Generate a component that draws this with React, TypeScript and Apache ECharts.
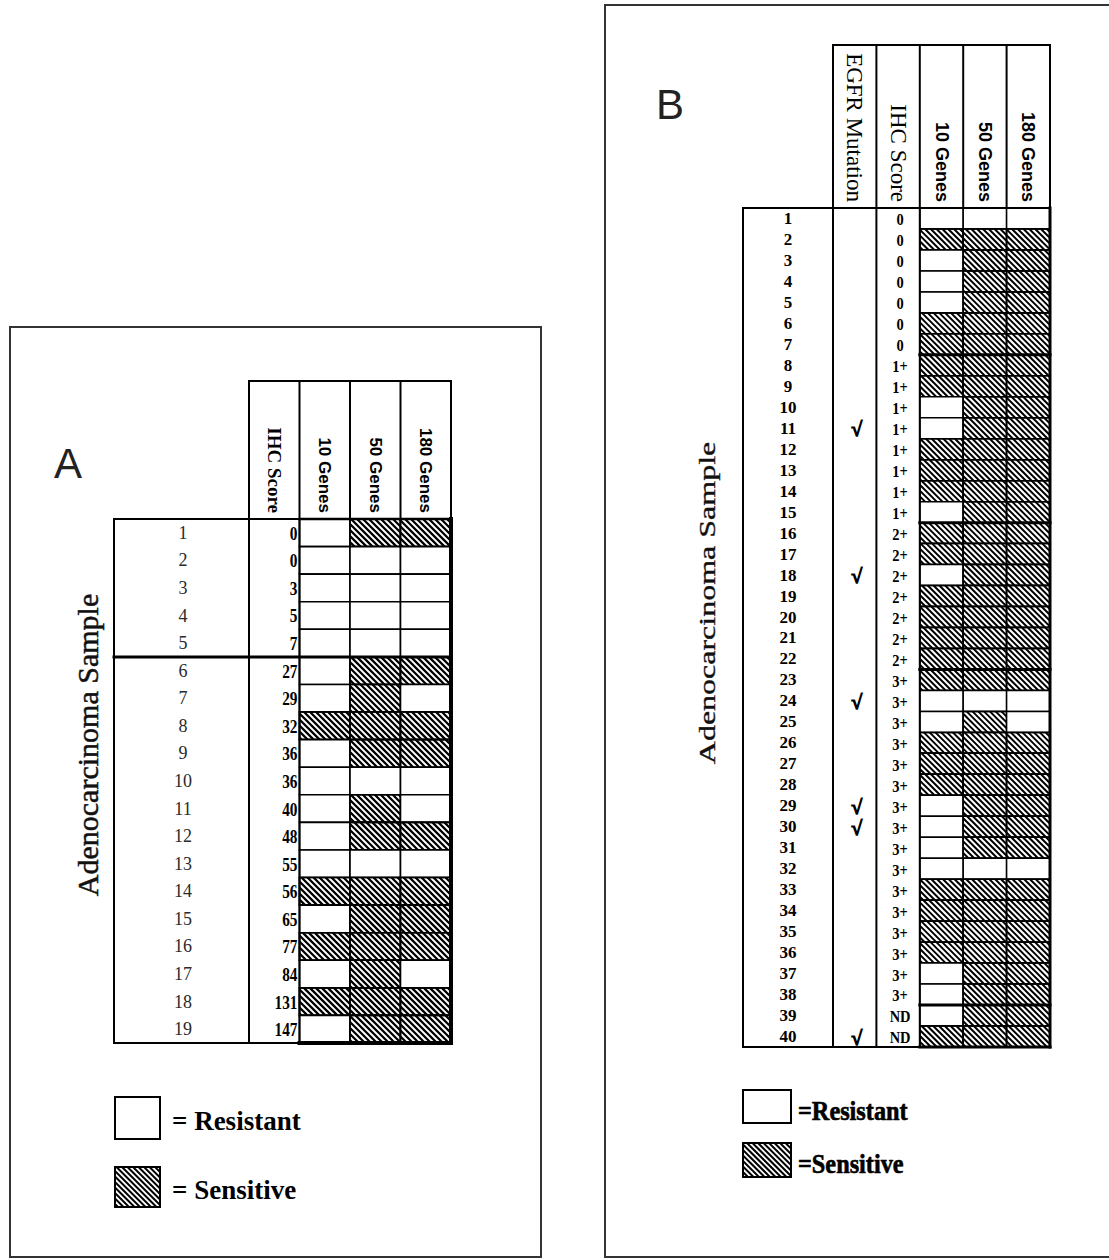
import React, { useEffect, useRef } from "react";
import * as echarts from "echarts";

const SERIF = '"Liberation Serif", "Times New Roman", serif';
const SANS = '"Liberation Sans", Arial, sans-serif';

// ---------- Panel A data ----------
const samplesA = ["1", "2", "3", "4", "5", "6", "7", "8", "9", "10", "11", "12", "13", "14", "15", "16", "17", "18", "19"];
const ihcA = ["0", "0", "3", "5", "7", "27", "29", "32", "36", "36", "40", "48", "55", "56", "65", "77", "84", "131", "147"];
const genes10A = [0, 0, 0, 0, 0, 0, 0, 1, 0, 0, 0, 0, 0, 1, 0, 1, 0, 1, 0];
const genes50A = [1, 0, 0, 0, 0, 1, 1, 1, 1, 0, 1, 1, 0, 1, 1, 1, 1, 1, 1];
const genes180A = [1, 0, 0, 0, 0, 1, 0, 1, 1, 0, 0, 1, 0, 1, 1, 1, 0, 1, 1];
const groupStartsA = [5];
const headersA = ["IHC Score", "10 Genes", "50 Genes", "180 Genes"];

// ---------- Panel B data ----------
const samplesB = ["1", "2", "3", "4", "5", "6", "7", "8", "9", "10", "11", "12", "13", "14", "15", "16", "17", "18", "19", "20",
  "21", "22", "23", "24", "25", "26", "27", "28", "29", "30", "31", "32", "33", "34", "35", "36", "37", "38", "39", "40"];
const egfrB = ["", "", "", "", "", "", "", "", "", "", "√", "", "", "", "", "", "", "√", "", "",
  "", "", "", "√", "", "", "", "", "√", "√", "", "", "", "", "", "", "", "", "", "√"];
const ihcB = ["0", "0", "0", "0", "0", "0", "0", "1+", "1+", "1+", "1+", "1+", "1+", "1+", "1+", "2+", "2+", "2+", "2+", "2+",
  "2+", "2+", "3+", "3+", "3+", "3+", "3+", "3+", "3+", "3+", "3+", "3+", "3+", "3+", "3+", "3+", "3+", "3+", "ND", "ND"];
const genes10B = [0, 1, 0, 0, 0, 1, 1, 1, 1, 0, 0, 1, 1, 1, 0, 1, 1, 0, 1, 1,
  1, 1, 1, 0, 0, 1, 1, 1, 0, 0, 0, 0, 1, 1, 1, 1, 0, 0, 0, 1];
const genes50B = [0, 1, 1, 1, 1, 1, 1, 1, 1, 1, 1, 1, 1, 1, 1, 1, 1, 1, 1, 1,
  1, 1, 1, 0, 1, 1, 1, 1, 1, 1, 1, 0, 1, 1, 1, 1, 1, 1, 1, 1];
const genes180B = [0, 1, 1, 1, 1, 1, 1, 1, 1, 1, 1, 1, 1, 1, 1, 1, 1, 1, 1, 1,
  1, 1, 1, 0, 0, 1, 1, 1, 1, 1, 1, 0, 1, 1, 1, 1, 1, 1, 1, 1];
const headersB = ["EGFR Mutation", "IHC Score", "10 Genes", "50 Genes", "180 Genes"];
const groupStartsB = ihcB.map((v, i) => (i > 0 && v !== ihcB[i - 1] ? i : -1)).filter((i) => i > 0);

const legendLabels = ["Resistant", "Sensitive"];
const axisTitle = "Adenocarcinoma Sample";

// hatch segments "\" inside a rect, aligned on a global lattice
function hatchSegs(x0: number, y0: number, w: number, h: number, step: number) {
  const x1 = x0 + w, y1 = y0 + h;
  const segs: number[][] = [];
  const kMin = Math.ceil((x0 - y1) / step) * step;
  for (let k = kMin; k <= x1 - y0; k += step) {
    const xa = Math.max(x0, y0 + k), xb = Math.min(x1, y1 + k);
    if (xb - xa < 0.4) continue;
    segs.push([xa, xa - k, xb, xb - k]);
  }
  return segs;
}
function hatchPath(x0: number, y0: number, w: number, h: number, step: number) {
  return hatchSegs(x0, y0, w, h, step).map((s) => `M${s[0].toFixed(2)} ${s[1].toFixed(2)}L${s[2].toFixed(2)} ${s[3].toFixed(2)}`).join("");
}

const headerItem = (name: string, serifSize: number, sansSize: number, serifWeight: string) =>
  name.indexOf("Genes") >= 0
    ? { value: name, textStyle: { fontFamily: SANS, fontSize: sansSize, fontWeight: "bold", color: "#000" } }
    : { value: name, textStyle: { fontFamily: SERIF, fontSize: serifSize, fontWeight: serifWeight, color: "#000" } };

type TextCol = { col: number; values: string[]; align: string; size: number; scaleX: number; stroke: number };
type Panel = {
  grid: { left: number; top: number; width: number; height: number };
  headers: any[];
  samples: string[];
  sampleLabel: any;
  textCols: TextCol[];
  geneStart: number;
  genes: number[][];
  headerHeight: number;
  sampleWidth: number;
  groupStarts: number[];
  sepFromSample: boolean;
  border: { top: number; right: number; bottom: number };
  cellStroke: number;
  hatchStep: number;
  hatchWidth: number;
};

const panels: Panel[] = [
  {
    grid: { left: 249, top: 519, width: 202, height: 524 },
    headers: headersA.map((h) => headerItem(h, 19, 17, "bold")),
    samples: samplesA,
    sampleLabel: { margin: 66, fontFamily: SERIF, fontSize: 18, color: "#2a2a2a" },
    textCols: [{ col: 0, values: ihcA, align: "right", size: 18, scaleX: 0.85, stroke: 0 }],
    geneStart: 1,
    genes: [genes10A, genes50A, genes180A],
    headerHeight: 138,
    sampleWidth: 135,
    groupStarts: groupStartsA,
    sepFromSample: true,
    border: { top: 2.5, right: 4, bottom: 4 },
    cellStroke: 1.6,
    hatchStep: 6,
    hatchWidth: 2.3,
  },
  {
    grid: { left: 833, top: 208, width: 217, height: 839 },
    headers: headersB.map((h) => headerItem(h, 23, 18, "normal")),
    samples: samplesB,
    sampleLabel: { margin: 45, fontFamily: SERIF, fontSize: 17, fontWeight: "bold", color: "#000" },
    textCols: [
      { col: 0, values: egfrB, align: "center", size: 20, scaleX: 1, stroke: 1.2 },
      { col: 1, values: ihcB, align: "center", size: 17, scaleX: 0.85, stroke: 0 },
    ],
    geneStart: 2,
    genes: [genes10B, genes50B, genes180B],
    headerHeight: 163,
    sampleWidth: 90,
    groupStarts: groupStartsB,
    sepFromSample: false,
    border: { top: 2, right: 3, bottom: 3 },
    cellStroke: 1.5,
    hatchStep: 5.8,
    hatchWidth: 2,
  },
];

function buildOption() {
  const grid: any[] = [];
  const xAxis: any[] = [];
  const yAxis: any[] = [];
  const series: any[] = [];

  panels.forEach((p, gi) => {
    const nCols = p.headers.length;
    const nRows = p.samples.length;
    grid.push({ ...p.grid, containLabel: false });
    xAxis.push({
      type: "category",
      gridIndex: gi,
      position: "top",
      data: p.headers,
      axisLine: { show: false },
      axisTick: { show: false },
      splitLine: { show: false },
      axisLabel: { rotate: 90, margin: 6, interval: 0, color: "#000" },
    });
    yAxis.push({
      type: "category",
      gridIndex: gi,
      inverse: true,
      data: p.samples,
      axisLine: { show: false },
      axisTick: { show: false },
      splitLine: { show: false },
      axisLabel: { interval: 0, align: "center", ...p.sampleLabel },
    });

    // gene cells
    const cells: number[][] = [];
    p.genes.forEach((arr, k) => arr.forEach((v, r) => cells.push([p.geneStart + k, r, v])));
    series.push({
      type: "custom",
      xAxisIndex: gi,
      yAxisIndex: gi,
      silent: true,
      z: 2,
      data: cells,
      renderItem: (params: any, api: any) => {
        const c = api.coord([api.value(0), api.value(1)]);
        const sz = api.size([1, 1]);
        const x = c[0] - sz[0] / 2, y = c[1] - sz[1] / 2;
        const children: any[] = [
          { type: "rect", shape: { x, y, width: sz[0], height: sz[1] }, style: { fill: "#fff", stroke: "#000", lineWidth: p.cellStroke } },
        ];
        if (api.value(2) === 1) {
          children.push({
            type: "path",
            shape: { pathData: hatchPath(x, y, sz[0], sz[1], p.hatchStep) },
            style: { fill: null, stroke: "#000", lineWidth: p.hatchWidth },
          });
          children.push({ type: "rect", shape: { x, y, width: sz[0], height: sz[1] }, style: { fill: null, stroke: "#000", lineWidth: p.cellStroke } });
        }
        return { type: "group", children };
      },
    });

    // text columns
    p.textCols.forEach((tc) => {
      series.push({
        type: "custom",
        xAxisIndex: gi,
        yAxisIndex: gi,
        silent: true,
        z: 3,
        data: tc.values.map((_, r) => [tc.col, r]),
        renderItem: (params: any, api: any) => {
          const c = api.coord([api.value(0), api.value(1)]);
          const sz = api.size([1, 1]);
          const x = tc.align === "right" ? c[0] + sz[0] / 2 - 2 : c[0] + 2;
          return {
            type: "text",
            x,
            y: c[1] + 1,
            scaleX: tc.scaleX,
            style: {
              text: tc.values[params.dataIndex],
              align: tc.align,
              verticalAlign: "middle",
              fontFamily: SERIF,
              fontWeight: "bold",
              fontSize: tc.size,
              fill: "#000",
              stroke: tc.stroke ? "#000" : null,
              lineWidth: tc.stroke,
            },
          };
        },
      });
    });

    // table structure
    series.push({
      type: "custom",
      xAxisIndex: gi,
      yAxisIndex: gi,
      silent: true,
      z: 4,
      data: [[0, 0]],
      renderItem: (params: any, api: any) => {
        const sz = api.size([1, 1]);
        const cw = sz[0], rh = sz[1];
        const a = api.coord([0, 0]);
        const b = api.coord([nCols - 1, nRows - 1]);
        const L = a[0] - cw / 2, T = a[1] - rh / 2, R = b[0] + cw / 2, B = b[1] + rh / 2;
        const G = L + p.geneStart * cw;
        const S = L - p.sampleWidth;
        const H = T - p.headerHeight;
        const line = (x1: number, y1: number, x2: number, y2: number, w: number) => ({
          type: "line",
          shape: { x1, y1, x2, y2 },
          style: { stroke: "#000", lineWidth: w, lineCap: "square" },
        });
        const ch: any[] = [];
        for (let j = 0; j <= nCols; j++) ch.push(line(L + j * cw, H, L + j * cw, T, 2));
        ch.push(line(L, H, R, H, 2));
        for (let j = 0; j <= p.geneStart; j++) ch.push(line(L + j * cw, T, L + j * cw, B, 2));
        ch.push(line(S, T, S, B, 2));
        ch.push(line(S, T, G, T, 2));
        ch.push(line(S, B, G, B, 2));
        p.groupStarts.forEach((g) => ch.push(line(p.sepFromSample ? S : G, T + g * rh, R, T + g * rh, 3)));
        ch.push(line(G, T, R, T, p.border.top));
        ch.push(line(R, T, R, B, p.border.right));
        ch.push(line(G, B, R, B, p.border.bottom));
        return { type: "group", children: ch };
      },
    });
  });

  // decorations: frames, panel letters, titles, legends
  const hatchLines = (x: number, y: number, w: number, h: number, step: number, lw: number) =>
    hatchSegs(x, y, w, h, step).map((s) => ({
      type: "line",
      shape: { x1: s[0], y1: s[1], x2: s[2], y2: s[3] },
      style: { stroke: "#000", lineWidth: lw },
    }));

  const legendA = [
    { type: "rect", shape: { x: 115, y: 1097, width: 45, height: 42 }, style: { fill: "#fff", stroke: "#000", lineWidth: 2 } },
    ...hatchLines(115, 1167, 45, 40, 5.5, 2),
    { type: "rect", shape: { x: 115, y: 1167, width: 45, height: 40 }, style: { fill: null, stroke: "#000", lineWidth: 2 } },
    { type: "text", x: 172, y: 1121, style: { text: "= " + legendLabels[0], fontFamily: SERIF, fontWeight: "bold", fontSize: 27, fill: "#000", verticalAlign: "middle" } },
    { type: "text", x: 172, y: 1190, style: { text: "= " + legendLabels[1], fontFamily: SERIF, fontWeight: "bold", fontSize: 27, fill: "#000", verticalAlign: "middle" } },
  ];
  const legendB = [
    { type: "rect", shape: { x: 743, y: 1090, width: 48, height: 33 }, style: { fill: "#fff", stroke: "#000", lineWidth: 2 } },
    ...hatchLines(743, 1143, 48, 34, 5.5, 2),
    { type: "rect", shape: { x: 743, y: 1143, width: 48, height: 34 }, style: { fill: null, stroke: "#000", lineWidth: 2 } },
    { type: "text", x: 798, y: 1111, scaleX: 0.9, style: { text: "=" + legendLabels[0], fontFamily: SERIF, fontWeight: "bold", fontSize: 27, fill: "#000", verticalAlign: "middle", stroke: "#000", lineWidth: 0.6 } },
    { type: "text", x: 798, y: 1164, scaleX: 0.9, style: { text: "=" + legendLabels[1], fontFamily: SERIF, fontWeight: "bold", fontSize: 27, fill: "#000", verticalAlign: "middle", stroke: "#000", lineWidth: 0.6 } },
  ];

  const graphic = [
    { type: "rect", shape: { x: 10, y: 327, width: 531, height: 930 }, style: { fill: null, stroke: "#333", lineWidth: 2 }, silent: true },
    { type: "rect", shape: { x: 605, y: 5, width: 560, height: 1252 }, style: { fill: null, stroke: "#333", lineWidth: 2 }, silent: true },
    { type: "text", x: 68, y: 463, style: { text: "A", fontFamily: SANS, fontSize: 42, fill: "#222", align: "center", verticalAlign: "middle" } },
    { type: "text", x: 670, y: 104, style: { text: "B", fontFamily: SANS, fontSize: 42, fill: "#222", align: "center", verticalAlign: "middle" } },
    { type: "text", x: 87, y: 745, rotation: Math.PI / 2, style: { text: axisTitle, fontFamily: SERIF, fontSize: 30, fill: "#111", align: "center", verticalAlign: "middle", stroke: "#111", lineWidth: 0.5 } },
    { type: "text", x: 707, y: 603, rotation: Math.PI / 2, scaleY: 0.7, style: { text: axisTitle, fontFamily: SERIF, fontSize: 32, fill: "#111", align: "center", verticalAlign: "middle", stroke: "#111", lineWidth: 0.5 } },
    ...legendA,
    ...legendB,
  ];

  return {
    animation: false,
    backgroundColor: "#fff",
    grid,
    xAxis,
    yAxis,
    series,
    graphic,
  };
}

export default function App() {
  const ref = useRef<HTMLDivElement>(null);
  useEffect(() => {
    if (!ref.current) return;
    const chart = echarts.init(ref.current, null, { renderer: "svg" });
    chart.setOption(buildOption() as any);
    return () => chart.dispose();
  }, []);
  return <div ref={ref} style={{ position: "absolute", left: 0, top: 0, width: 1109, height: 1260 }} />;
}
